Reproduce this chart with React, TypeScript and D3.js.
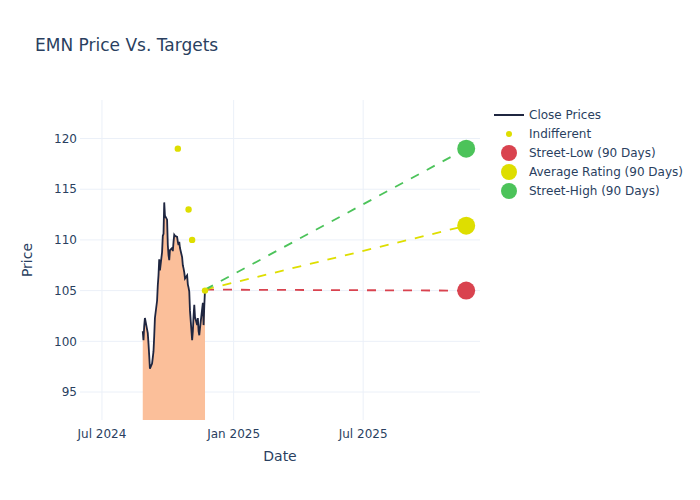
import React from "react";
import * as d3 from "d3";

const closeDates = [
  "2024-08-27","2024-08-28","2024-08-29","2024-08-30",
  "2024-09-03","2024-09-04","2024-09-05","2024-09-06","2024-09-09","2024-09-10","2024-09-11","2024-09-12","2024-09-13",
  "2024-09-16","2024-09-17","2024-09-18","2024-09-19","2024-09-20","2024-09-23","2024-09-24","2024-09-25","2024-09-26","2024-09-27","2024-09-30",
  "2024-10-01","2024-10-02","2024-10-03","2024-10-04","2024-10-07","2024-10-08","2024-10-09","2024-10-10","2024-10-11",
  "2024-10-14","2024-10-15","2024-10-16","2024-10-17","2024-10-18","2024-10-21","2024-10-22","2024-10-23","2024-10-24","2024-10-25",
  "2024-10-28","2024-10-29","2024-10-30","2024-10-31","2024-11-01","2024-11-04","2024-11-05","2024-11-06","2024-11-07","2024-11-08",
  "2024-11-11","2024-11-12","2024-11-13","2024-11-14","2024-11-15","2024-11-18","2024-11-19","2024-11-20","2024-11-21","2024-11-22",
];
const closePrices = [
  101.0, 100.1, 101.5, 102.3,
  100.8, 99.8, 98.6, 97.3, 97.8, 98.4, 99.0, 100.5, 102.3,
  104.0, 105.5, 106.5, 108.1, 107.0, 108.8, 110.4, 110.6, 113.7, 112.4, 112.0,
  109.5, 108.5, 108.0, 109.0, 109.2, 108.9, 109.8, 110.5, 110.4,
  110.3, 109.8, 109.5, 109.8, 109.2, 108.3, 107.5, 107.2, 106.8, 106.2,
  106.5, 105.6, 105.3, 104.9, 103.0, 100.1, 101.0, 102.5, 103.6, 102.4,
  101.6, 102.3, 101.0, 100.6, 101.3, 103.2, 103.8, 101.6, 103.5, 105.1,
];

const indifferentDates = ["2024-10-15", "2024-10-30", "2024-11-04", "2024-11-22"];
const indifferentValues = [119, 113, 110, 105];

const targetStartDate = "2024-11-22";
const targetStartValue = 105.1;
const targetDate = "2025-11-22";
const targetNames = ["Street-Low (90 Days)", "Average Rating (90 Days)", "Street-High (90 Days)"];
const targetValues = [105, 111.4, 119];
const targetColors = ["#d9434f", "#dede00", "#4cc35a"];

const yTicks = [95, 100, 105, 110, 115, 120];
const xTickDates = ["2024-07-01", "2025-01-01", "2025-07-01"];
const xTickLabels = ["Jul 2024", "Jan 2025", "Jul 2025"];

const W = 700, H = 500;
const L = 80, R = 480, T = 100, B = 420;
const FONT = "'DejaVu Sans', sans-serif";
const TXT = "#2a3f5f";
const GRID = "#ebf0f8";

const parse = (s: string) => new Date(s + "T00:00:00");

export default function App() {
  const x = d3.scaleTime()
    .domain([new Date("2024-05-31T07:00:00"), new Date("2025-12-11T07:00:00")])
    .range([L, R]);
  const y = d3.scaleLinear().domain([92.24, 123.8]).range([B, T]);

  const pts = closeDates.map((d, i) => ({ d: parse(d), v: closePrices[i] }));
  const line = d3.line<{ d: Date; v: number }>().x(p => x(p.d)).y(p => y(p.v));
  const area = d3.area<{ d: Date; v: number }>().x(p => x(p.d)).y0(B).y1(p => y(p.v));

  const legendItems = ["Close Prices", "Indifferent", ...targetNames];

  return (
    <svg width={W} height={H} style={{ position: "absolute", left: 0, top: 0, background: "#fff" }} fontFamily={FONT}>
      <defs>
        <clipPath id="plot"><rect x={L} y={T} width={R - L} height={B - T} /></clipPath>
      </defs>
      <rect width={W} height={H} fill="#fff" />
      {yTicks.map(t => (
        <line key={"gy" + t} x1={L} x2={R} y1={y(t)} y2={y(t)} stroke={GRID} strokeWidth={1} />
      ))}
      {xTickDates.map(t => (
        <line key={"gx" + t} x1={x(parse(t))} x2={x(parse(t))} y1={T} y2={B} stroke={GRID} strokeWidth={1} />
      ))}
      <g clipPath="url(#plot)">
        <path d={area(pts) || ""} fill="#fbbf9a" />
        <path d={line(pts) || ""} fill="none" stroke="#1f2640" strokeWidth={1.8} />
        {targetValues.map((v, i) => (
          <line key={"tl" + i}
            x1={x(parse(targetStartDate))} y1={y(targetStartValue)}
            x2={x(parse(targetDate))} y2={y(v)}
            stroke={targetColors[i]} strokeWidth={1.8} strokeDasharray="9,9" />
        ))}
        {indifferentDates.map((d, i) => (
          <circle key={"ind" + i} cx={x(parse(d))} cy={y(indifferentValues[i])} r={3.2} fill="#dede00" />
        ))}
        {targetValues.map((v, i) => (
          <circle key={"tc" + i} cx={x(parse(targetDate))} cy={y(v)} r={9} fill={targetColors[i]} />
        ))}
      </g>
      {yTicks.map(t => (
        <text key={"yt" + t} x={L - 3} y={y(t)} dy="0.35em" textAnchor="end" fontSize={12} fill={TXT}>{t}</text>
      ))}
      {xTickDates.map((t, i) => (
        <text key={"xt" + t} x={x(parse(t))} y={B + 14} dy="0.35em" textAnchor="middle" fontSize={12} fill={TXT}>{xTickLabels[i]}</text>
      ))}
      <text x={(L + R) / 2} y={461} textAnchor="middle" fontSize={14} fill={TXT}>Date</text>
      <text transform={`translate(32,${(T + B) / 2}) rotate(-90)`} textAnchor="middle" fontSize={14} fill={TXT}>Price</text>
      <text x={35} y={51} fontSize={17} fill={TXT}>EMN Price Vs. Targets</text>
      {legendItems.map((name, i) => {
        const ly = 115 + i * 19;
        return (
          <g key={"lg" + i}>
            {i === 0 && <line x1={494} x2={524} y1={ly} y2={ly} stroke="#1f2640" strokeWidth={2} />}
            {i === 1 && <circle cx={509} cy={ly} r={3} fill="#dede00" />}
            {i >= 2 && <circle cx={509} cy={ly} r={8} fill={targetColors[i - 2]} />}
            <text x={529} y={ly} dy="0.35em" fontSize={12} fill={TXT}>{name}</text>
          </g>
        );
      })}
    </svg>
  );
}
